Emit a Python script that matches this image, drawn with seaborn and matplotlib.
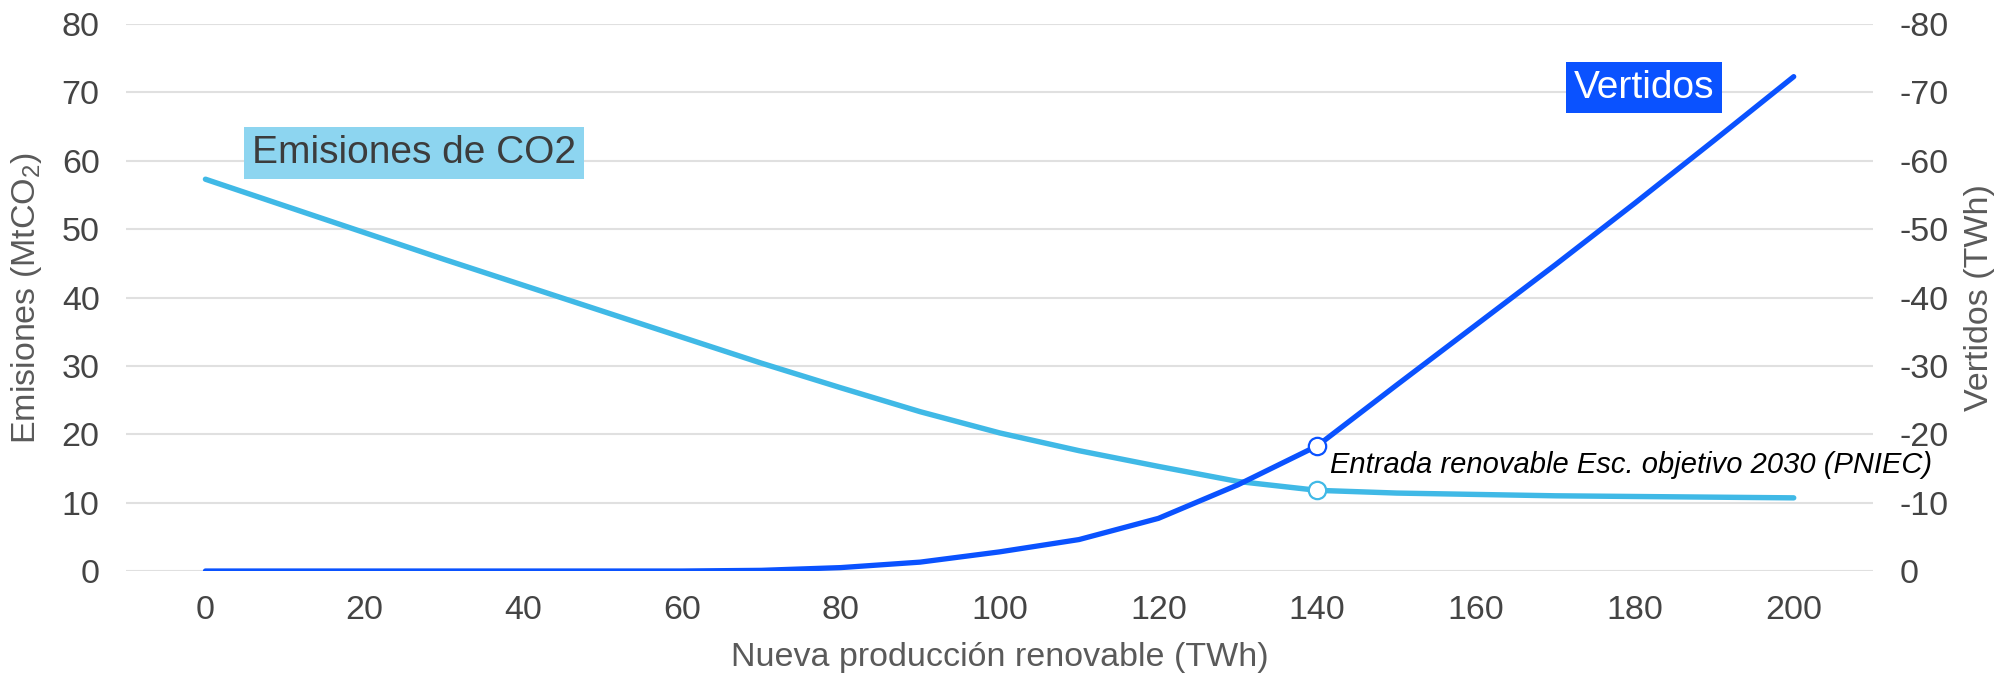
"""
Emisiones de CO2 vs vertidos segun nueva produccion renovable.
"""

import numpy as np
import pandas as pd
import matplotlib
matplotlib.use('Agg')
import matplotlib.pyplot as plt
import seaborn as sns

# ─────────────────────────────────────────────
# Data
# ─────────────────────────────────────────────
renovable = [0, 10, 20, 30, 40, 50, 60, 70, 80, 90, 100,
             110, 120, 130, 140, 150, 160, 170, 180, 190, 200]
emisiones = [57.3, 53.4, 49.5, 45.6, 41.8, 38.0, 34.2, 30.4, 26.8, 23.3, 20.2,
             17.6, 15.3, 13.1, 11.8, 11.4, 11.2, 11.0, 10.9, 10.8, 10.7]
vertidos = [0, 0, 0, 0, 0, 0, 0, -0.1, -0.5, -1.3, -2.8,
            -4.6, -7.7, -12.6, -18.3, -27.2, -36.0, -44.8, -53.8, -63.0, -72.3]

x_ticks = [0, 20, 40, 60, 80, 100, 120, 140, 160, 180, 200]
left_ticks = [0, 10, 20, 30, 40, 50, 60, 70, 80]
right_ticks = [0, -10, -20, -30, -40, -50, -60, -70, -80]

pniec_x = 140
pniec_label = 'Entrada renovable Esc. objetivo 2030 (PNIEC)'

df = pd.DataFrame({'renovable': renovable,
                   'emisiones': emisiones,
                   'vertidos': vertidos})

# ─────────────────────────────────────────────
# Style
# ─────────────────────────────────────────────
CYAN = '#40B9E6'
CYAN_BOX = '#8DD5F0'
BLUE = '#0A52FF'
TICK = '#444444'
LABEL = '#5A5A5A'
GRID = '#E0E0E0'

sns.set_theme(style='white')
plt.rcParams['font.family'] = ['Liberation Sans', 'DejaVu Sans']
plt.rcParams['axes.unicode_minus'] = False
plt.rcParams['mathtext.fontset'] = 'custom'
plt.rcParams['mathtext.rm'] = 'Liberation Sans'
plt.rcParams['mathtext.default'] = 'regular'

fig = plt.figure(figsize=(20.07, 6.76), dpi=100, facecolor='white')
ax = fig.add_axes([0.0628, 0.1553, 0.8705, 0.8092])
ax2 = ax.twinx()

# ── Emisiones (left axis) ────────────────────
sns.lineplot(data=df, x='renovable', y='emisiones', ax=ax,
             color=CYAN, lw=3.9, zorder=3)
ax.set_xlim(-10, 210)
ax.set_ylim(0, 80)
ax.set_yticks(left_ticks)
ax.set_xticks(x_ticks)
ax.yaxis.grid(True, color=GRID, lw=1.5, zorder=0)
ax.xaxis.grid(False)
ax.set_axisbelow(True)
for s in ax.spines.values():
    s.set_visible(False)
ax.tick_params(axis='both', length=0, labelsize=24.5, colors=TICK)
ax.tick_params(axis='y', pad=19)
ax.tick_params(axis='x', pad=17)
ax.set_xlabel('Nueva producción renovable (TWh)', fontsize=24.5, color=LABEL)
ax.set_ylabel('Emisiones (MtCO$_2$)', fontsize=24.5, color=LABEL)
ax.xaxis.set_label_coords(0.5, -0.13)
ax.yaxis.set_label_coords(-0.047, 0.5)

# ── Vertidos (right axis, inverted) ──────────
sns.lineplot(data=df, x='renovable', y='vertidos', ax=ax2,
             color=BLUE, lw=3.8, zorder=3)
ax2.set_ylim(0, -80)
ax2.set_yticks(right_ticks)
ax2.grid(False)
for s in ax2.spines.values():
    s.set_visible(False)
ax2.tick_params(axis='y', length=0, labelsize=24.5, colors=TICK, pad=19)
ax2.set_ylabel('Vertidos (TWh)', fontsize=24.5, color=LABEL)
ax2.yaxis.set_label_coords(1.052, 0.5)

# ── PNIEC 2030 markers ───────────────────────
i = renovable.index(pniec_x)
ax.plot(pniec_x, emisiones[i], 'o', ms=12.5, mfc='white', mec=CYAN, mew=1.6, zorder=5)
ax2.plot(pniec_x, vertidos[i], 'o', ms=12.5, mfc='white', mec=BLUE, mew=1.6, zorder=5)
ax2.text(pniec_x + 1.6, vertidos[i] + 4.0, pniec_label, fontsize=21,
         style='italic', color='black', ha='left', va='baseline', zorder=6)

# ── Series labels ────────────────────────────
ax.text(26.3, 61.1, 'Emisiones de CO2', fontsize=28, color='#3C3C3C',
        ha='center', va='center', zorder=6,
        bbox=dict(boxstyle='square,pad=0.2', fc=CYAN_BOX, ec='none'))
ax.text(181.1, 70.7, 'Vertidos', fontsize=28, color='white',
        ha='center', va='center', zorder=6,
        bbox=dict(boxstyle='square,pad=0.2', fc=BLUE, ec='none'))

plt.savefig('out.png', dpi=100, facecolor='white')
